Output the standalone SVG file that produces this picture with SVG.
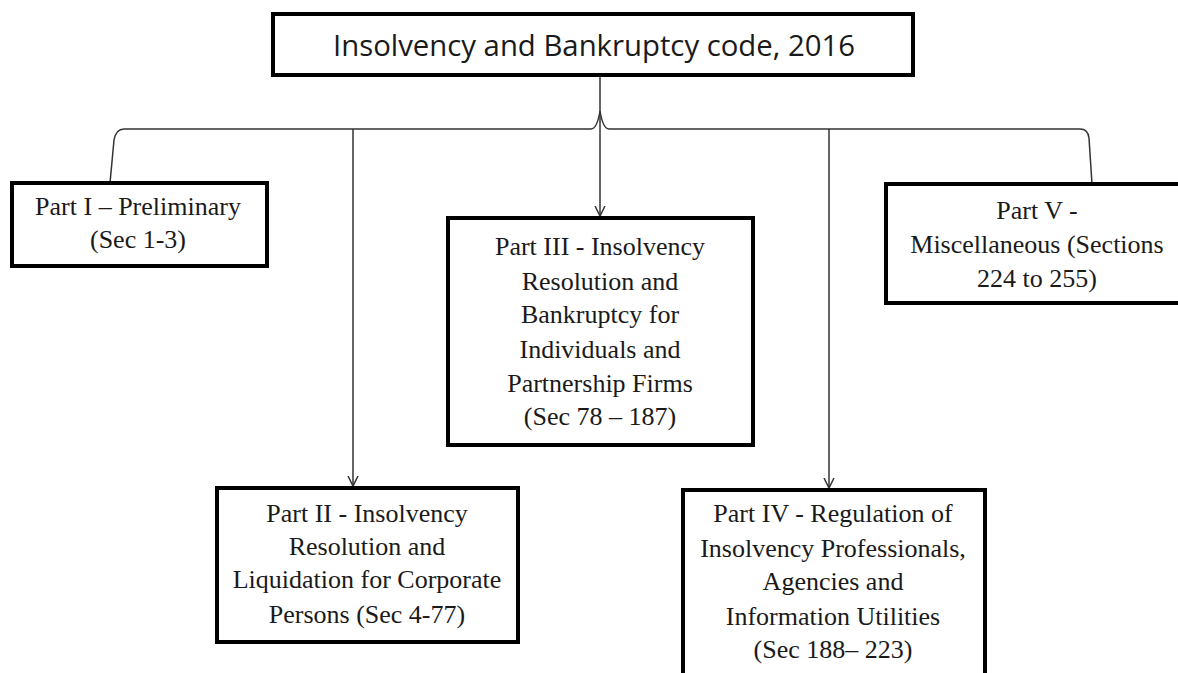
<svg xmlns="http://www.w3.org/2000/svg" width="1178" height="673" viewBox="0 0 1178 673">
<style>
.box{fill:#fff;stroke:#000;stroke-width:4}
.t{font-family:"Liberation Serif","Times New Roman",serif;font-size:26px;fill:#1a1a1a;text-anchor:middle}
.title{font-family:"Open Sans","Liberation Sans",sans-serif;font-size:30px;fill:#1a1a1a;text-anchor:middle}
.ln{fill:none;stroke:#333;stroke-width:1.5}
</style>
<defs>
<marker id="arr" markerWidth="12" markerHeight="12" refX="10" refY="6" orient="auto" markerUnits="userSpaceOnUse">
<polyline points="0,1 10,6 0,11" fill="none" stroke="#333" stroke-width="1.5"/>
</marker>
</defs>
<rect width="1178" height="673" fill="#fff"/>
<g id="connectors">
<path class="ln" d="M600,75 V216" marker-end="url(#arr)"/>
<path class="ln" d="M110,183 L114,140 Q116,129 124,129 H591 Q597,129 600,111 Q603,129 609,129 H1080 Q1088,129 1089,138 L1092,184"/>
<path class="ln" d="M353,129 V486" marker-end="url(#arr)"/>
<path class="ln" d="M829,129 V488" marker-end="url(#arr)"/>
</g>
<g id="title">
<rect class="box" x="273" y="14" width="640" height="61"/>
<text class="title" x="594" y="56" textLength="522" lengthAdjust="spacingAndGlyphs">Insolvency and Bankruptcy code, 2016</text>
</g>
<g id="part1">
<rect class="box" x="12" y="183" width="255" height="83"/>
<text class="t" x="138" y="215">Part I – Preliminary</text>
<text class="t" x="138" y="248">(Sec 1-3)</text>
</g>
<g id="part3">
<rect class="box" x="448" y="218" width="305" height="227"/>
<text class="t" x="600" y="255">Part III - Insolvency</text>
<text class="t" x="600" y="290">Resolution and</text>
<text class="t" x="600" y="323">Bankruptcy for</text>
<text class="t" x="600" y="358">Individuals and</text>
<text class="t" x="600" y="392">Partnership Firms</text>
<text class="t" x="600" y="425">(Sec 78 – 187)</text>
</g>
<g id="part5">
<rect class="box" x="886" y="184" width="302" height="119"/>
<text class="t" x="1037" y="219">Part V -</text>
<text class="t" x="1037" y="253">Miscellaneous (Sections</text>
<text class="t" x="1037" y="287">224 to 255)</text>
</g>
<g id="part2">
<rect class="box" x="217" y="488" width="301" height="154"/>
<text class="t" x="367" y="522">Part II - Insolvency</text>
<text class="t" x="367" y="555">Resolution and</text>
<text class="t" x="367" y="588">Liquidation for Corporate</text>
<text class="t" x="367" y="623">Persons (Sec 4-77)</text>
</g>
<g id="part4">
<rect class="box" x="683" y="490" width="302" height="195"/>
<text class="t" x="833" y="522">Part IV - Regulation of</text>
<text class="t" x="833" y="557">Insolvency Professionals,</text>
<text class="t" x="833" y="590">Agencies and</text>
<text class="t" x="833" y="625">Information Utilities</text>
<text class="t" x="833" y="658">(Sec 188– 223)</text>
</g>
</svg>
